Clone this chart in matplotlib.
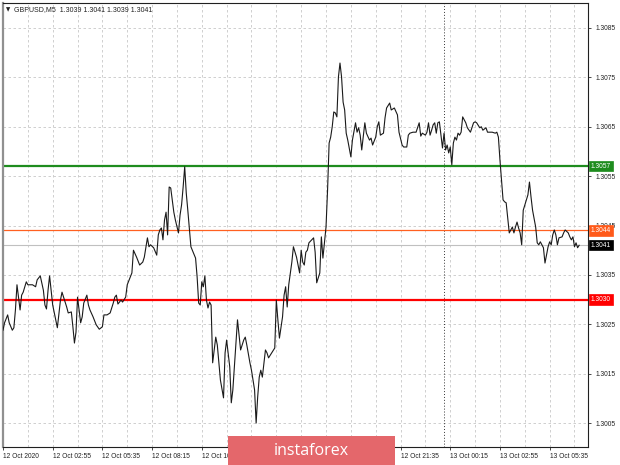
import numpy as np
import matplotlib
matplotlib.use('Agg')
import matplotlib.pyplot as plt
from matplotlib.patches import Rectangle
import matplotlib.transforms as mtransforms

# --- Data ---
# bar index (M5 bars from 12 Oct 00:00) and close price
barras = [0, 1, 3, 4, 6, 7, 8, 9, 10, 11, 12, 13, 15, 16, 19, 21, 22, 24, 26, 27,
          28, 29, 30, 31, 32, 35, 37, 38, 39, 41, 42, 44, 45, 46, 47, 48, 49, 50, 51, 52,
          54, 55, 56, 58, 60, 62, 64, 65, 67, 69, 71, 72, 73, 74, 76, 77, 79, 80, 83, 84,
          86, 88, 90, 91, 93, 94,
          95, 97, 99, 100, 101, 102, 103, 104, 105, 106, 107, 108, 110, 111, 113, 114, 115, 116, 117, 118,
          119, 121, 124, 125, 126, 127, 128, 129, 130, 131, 132, 133, 134, 135, 137, 138, 140, 142, 143, 144,
          146, 147, 148, 150, 151, 153, 155, 156, 157, 159, 160, 162, 163, 164, 165, 166, 167, 169, 170, 171,
          173, 175, 176, 177, 178, 180, 181, 182, 183, 184, 186, 187, 189, 191,
          192, 193, 194, 195, 196, 197, 200, 201, 202, 204, 205, 206, 207, 208, 209, 210, 211, 212, 213, 214,
          215, 216, 217, 218, 219, 220, 221, 222, 224, 225, 227, 228, 229, 230, 231, 233, 234, 236, 237, 238,
          240, 241, 242, 243, 245, 246, 247, 249, 250, 252, 254, 255, 257, 258, 260, 261, 262, 264, 265, 266,
          268, 269, 270, 272, 273, 274, 275, 276, 277, 278, 279, 280, 281, 283, 284, 285, 286, 287,
          288, 289, 290, 291, 292, 293, 294, 295, 296, 297, 298, 299, 301, 303, 304, 305, 307, 308, 309, 311,
          312, 315, 317, 318, 319, 320, 321, 322, 323, 324, 325, 326, 328, 329, 330, 331, 332, 333, 334, 335,
          337, 338, 339, 340, 341, 343, 344, 345, 346, 348, 349, 350, 351, 352, 353, 354, 355, 356, 357, 358,
          360, 361, 362, 364, 365, 366, 367, 368, 369, 370, 371]
cierres = [1.30238, 1.30253, 1.30269, 1.30253, 1.30238, 1.30243, 1.30279, 1.30330, 1.30305, 1.30279,
           1.30309, 1.30315, 1.30336, 1.30330, 1.30330, 1.30326, 1.30340, 1.30348, 1.30319, 1.30289,
           1.30281, 1.30319, 1.30348, 1.30319, 1.30289, 1.30243, 1.30299, 1.30315, 1.30305, 1.30285,
           1.30273, 1.30275, 1.30245, 1.30212, 1.30234, 1.30305, 1.30279, 1.30253, 1.30265, 1.30293,
           1.30309, 1.30289, 1.30279, 1.30265, 1.30249, 1.30240, 1.30245, 1.30269, 1.30269, 1.30273,
           1.30293, 1.30305, 1.30309, 1.30291, 1.30299, 1.30295, 1.30305, 1.30330, 1.30354, 1.30400,
           1.30386, 1.30370, 1.30376, 1.30386, 1.30425, 1.30407,
           1.30411, 1.30405, 1.30390, 1.30431, 1.30441, 1.30445, 1.30421, 1.30461, 1.30477, 1.30431,
           1.30528, 1.30526, 1.30477, 1.30461, 1.30435, 1.30471, 1.30492, 1.30528, 1.30569, 1.30516,
           1.30481, 1.30407, 1.30384, 1.30346, 1.30293, 1.30289, 1.30336, 1.30326, 1.30348, 1.30299,
           1.30283, 1.30295, 1.30289, 1.30172, 1.30224, 1.30208, 1.30137, 1.30101, 1.30192, 1.30218,
           1.30164, 1.30091, 1.30117, 1.30212, 1.30259, 1.30198, 1.30218, 1.30224, 1.30208, 1.30172,
           1.30157, 1.30117, 1.30050, 1.30103, 1.30143, 1.30157, 1.30143, 1.30198, 1.30192, 1.30182,
           1.30192, 1.30202, 1.30299, 1.30259, 1.30222, 1.30265, 1.30309, 1.30326, 1.30285, 1.30330,
           1.30376, 1.30407, 1.30386, 1.30354,
           1.30400, 1.30376, 1.30370, 1.30396, 1.30400, 1.30415, 1.30425, 1.30396, 1.30334, 1.30354,
           1.30427, 1.30384, 1.30415, 1.30447, 1.30522, 1.30617, 1.30629, 1.30650, 1.30680, 1.30678,
           1.30670, 1.30751, 1.30779, 1.30751, 1.30700, 1.30684, 1.30637, 1.30623, 1.30589, 1.30623,
           1.30658, 1.30639, 1.30648, 1.30633, 1.30603, 1.30658, 1.30637, 1.30623, 1.30627, 1.30613,
           1.30629, 1.30650, 1.30660, 1.30633, 1.30637, 1.30668, 1.30688, 1.30698, 1.30684, 1.30688,
           1.30674, 1.30639, 1.30613, 1.30609, 1.30609, 1.30633, 1.30637, 1.30639, 1.30639, 1.30639,
           1.30658, 1.30631, 1.30637, 1.30633, 1.30639, 1.30658, 1.30633, 1.30643, 1.30654, 1.30658,
           1.30637, 1.30658, 1.30660, 1.30607, 1.30637, 1.30603, 1.30613, 1.30597,
           1.30609, 1.30573, 1.30617, 1.30629, 1.30623, 1.30637, 1.30633, 1.30639, 1.30670, 1.30664,
           1.30658, 1.30648, 1.30639, 1.30658, 1.30660, 1.30658, 1.30648, 1.30650, 1.30643, 1.30648,
           1.30639, 1.30639, 1.30637, 1.30639, 1.30629, 1.30583, 1.30542, 1.30502, 1.30498, 1.30496,
           1.30465, 1.30435, 1.30447, 1.30435, 1.30447, 1.30457, 1.30445, 1.30435, 1.30411, 1.30481,
           1.30502, 1.30512, 1.30538, 1.30508, 1.30481, 1.30447, 1.30415, 1.30411, 1.30417, 1.30405,
           1.30374, 1.30390, 1.30407, 1.30417, 1.30411, 1.30431, 1.30441, 1.30431, 1.30411, 1.30425,
           1.30427, 1.30435, 1.30441, 1.30435, 1.30427, 1.30421, 1.30427, 1.30407, 1.30415, 1.30405,
           1.30410]

niveles = [1.3057, 1.3044, 1.3030]
nivel_colores = ['#1e8c1e', '#ff6020', '#ff0000']
nivel_anchos = [1.6, 0.9, 1.6]
precio_bid = 1.3041

# labels hidden behind the watermark in the original are left blank
etiquetas_x = ['12 Oct 2020', '12 Oct 02:55', '12 Oct 05:35', '12 Oct 08:15', '12 Oct 10:55',
               '', '', '', '12 Oct 21:35', '13 Oct 00:15',
               '13 Oct 02:55', '13 Oct 05:35']
ticks_y = [1.3005, 1.3015, 1.3025, 1.3035, 1.3045, 1.3055, 1.3065, 1.3075, 1.3085]
titulo = 'GBPUSD,M5  1.3039 1.3041 1.3039 1.3041'

# --- Figure ---
fig = plt.figure(figsize=(6.2, 4.65), dpi=100)
W, H = 620, 465
ax = fig.add_axes([3 / W, 1 - 447 / H, 585 / W, 444 / H])
fuente = 'Liberation Sans'

# grid
for b in range(16, 377, 16):
    ax.axvline(b, color='#c8c8c8', lw=0.6, ls=(0, (3, 3)), zorder=0)
for t in ticks_y:
    ax.axhline(t, color='#c8c8c8', lw=0.6, ls=(0, (3, 3)), zorder=0)
# day separator
ax.axvline(284, color='#333333', lw=0.7, ls=(0, (1, 2)), zorder=1)

# levels
for nv, c, lw in zip(niveles, nivel_colores, nivel_anchos):
    ax.axhline(nv, color=c, lw=lw, zorder=2)
ax.axhline(precio_bid, color='#c0c0c0', lw=0.8, zorder=1)

ax.plot(barras, cierres, color='#1a1a1a', lw=0.8, zorder=3)

ax.set_xlim(0, 376.7)
ax.set_ylim(1.300015, 1.309006)

# axes styling
for s in ['top', 'right', 'bottom']:
    ax.spines[s].set_color('#202020')
    ax.spines[s].set_linewidth(0.8)
ax.spines['left'].set_color('#909090')
ax.spines['left'].set_linewidth(1.6)

ax.yaxis.tick_right()
ax.set_yticks(ticks_y)
ax.set_yticklabels(['%.4f' % t for t in ticks_y], fontsize=4.8, family=fuente, color='#222222')
ax.tick_params(axis='y', length=2.5, width=0.5, pad=3)
ax.set_xticks([32 * i for i in range(len(etiquetas_x))])
ax.set_xticklabels(etiquetas_x, fontsize=4.8, family=fuente, ha='left', color='#222222')
ax.tick_params(axis='x', length=2.5, width=0.5, pad=2)

# price labels on the right axis
trans = mtransforms.blended_transform_factory(ax.transAxes, ax.transData)
etiquetas_precio = [(1.3057, '#1e8c1e'), (1.3044, '#ff5a1a'), (precio_bid, '#000000'), (1.3030, '#ff0000')]
for val, c in etiquetas_precio:
    ax.text(1.005, val, '%.4f' % val, transform=trans, fontsize=4.8, family=fuente, color='white',
            va='center', ha='left', clip_on=False, zorder=5,
            bbox=dict(boxstyle='square,pad=0.25', fc=c, ec=c, lw=0.5))

# title
fig.text(6 / W, 1 - 10 / H, '\u25bc', fontsize=4, color='#222222', va='center', ha='left')
fig.text(14 / W, 1 - 10 / H, titulo, fontsize=5, family=fuente, color='#222222', va='center', ha='left')

# watermark
fig.patches.append(Rectangle((228 / W, 0), 167 / W, 29 / H, transform=fig.transFigure,
                             facecolor='#e4676b', edgecolor='none', zorder=10))
fig.text(311 / W, 14 / H, 'instaforex', fontsize=11.5, family='Open Sans', color='white',
         ha='center', va='center', zorder=11)

plt.savefig('out.png', dpi=100, facecolor='white')
